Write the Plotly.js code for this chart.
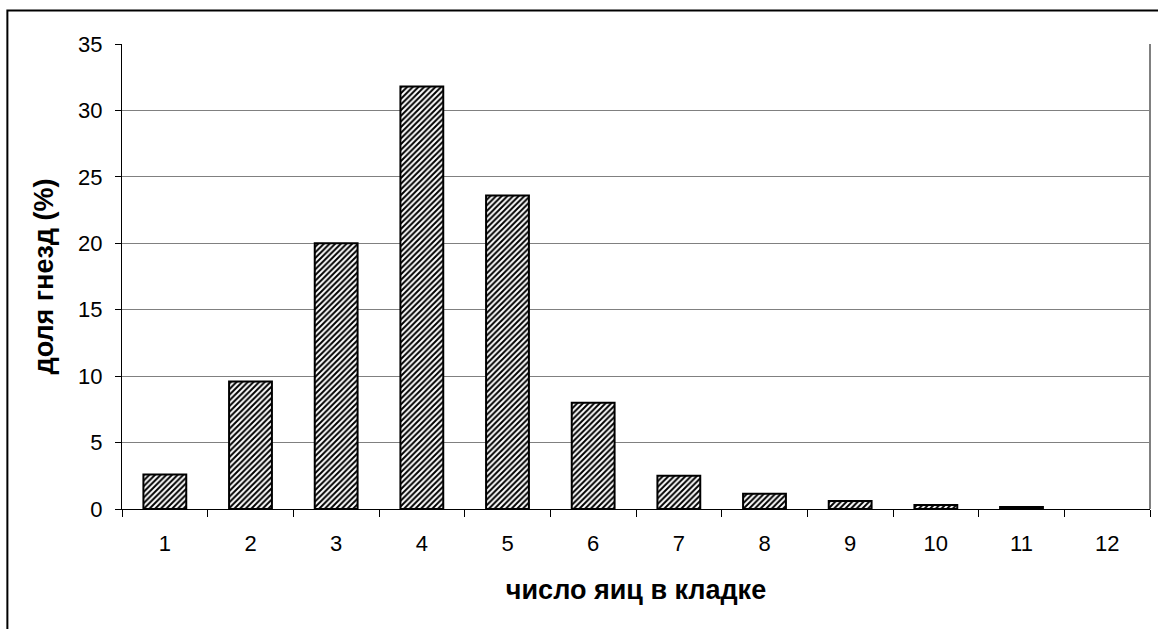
<!DOCTYPE html>
<html>
<head>
<meta charset="utf-8">
<script src="https://cdn.plot.ly/plotly-3.0.1.min.js"></script>
<style>html,body{margin:0;padding:0;background:#fff;}#chart{width:1158px;height:629px;}</style>
</head>
<body>
<div id="chart"></div>
<script>
const categories = ['1','2','3','4','5','6','7','8','9','10','11','12'];
const shares = [2.6, 9.6, 20.0, 31.8, 23.6, 8.0, 2.5, 1.15, 0.6, 0.3, 0.15, 0];
const yTicks = [0, 5, 10, 15, 20, 25, 30, 35];
const xTitle = 'число яиц в кладке';
const yTitle = 'доля гнезд (%)';

const font = 'Liberation Sans, Arial, sans-serif';

const trace = {
  type: 'bar',
  x: categories,
  y: shares,
  marker: {
    color: '#ffffff',
    line: {color: '#000000', width: shares.map(v => v > 0 ? 2 : 0)},
    pattern: {shape: '/', fgcolor: '#000000', bgcolor: '#ffffff', size: 4, solidity: 0.5}
  },
  hoverinfo: 'x+y'
};

const layout = {
  width: 1158, height: 629,
  margin: {l: 122, r: 8, t: 44, b: 120},
  paper_bgcolor: '#ffffff', plot_bgcolor: '#ffffff',
  showlegend: false,
  bargap: 0.5,
  font: {family: font, size: 22, color: '#000'},
  xaxis: {
    type: 'category',
    tickson: 'boundaries',
    ticks: 'outside', ticklen: 7, tickcolor: '#000', tickwidth: 1,
    showline: true, linecolor: '#000', linewidth: 1,
    showgrid: false, zeroline: false,
    ticklabelstandoff: 15,
    tickfont: {family: font, size: 22, color: '#000'},
    title: {text: xTitle, font: {family: font, size: 27, color: '#000', weight: 'bold'}, standoff: 24}
  },
  yaxis: {
    range: [0, 35],
    tickvals: yTicks,
    ticks: 'outside', ticklen: 6, tickcolor: '#000', tickwidth: 1,
    showline: true, linecolor: '#000', linewidth: 1,
    showgrid: true, gridcolor: '#808080', gridwidth: 1,
    zeroline: false,
    ticklabelstandoff: 8,
    tickfont: {family: font, size: 22, color: '#000'},
    title: {text: yTitle, font: {family: font, size: 27, color: '#000', weight: 'bold'}, standoff: 16}
  },
  shapes: [
    {type: 'line', xref: 'paper', yref: 'paper', x0: 1, x1: 1, y0: 0, y1: 1,
     line: {color: '#808080', width: 2}},
    {type: 'rect', xref: 'paper', yref: 'paper', x0: -0.1115, x1: 1.2, y0: -0.4, y1: 1.072,
     line: {color: '#000000', width: 2}, fillcolor: 'rgba(0,0,0,0)', layer: 'below'}
  ]
};

Plotly.newPlot('chart', [trace], layout, {displayModeBar: false, staticPlot: true});
</script>
</body>
</html>
